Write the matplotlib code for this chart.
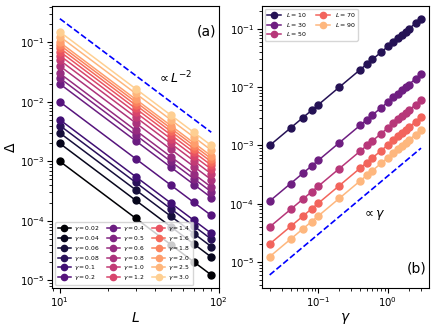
import numpy as np
import matplotlib
matplotlib.use("Agg")
import matplotlib.pyplot as plt

# Dados
L_values = [10, 30, 50, 70, 90]
gammas = [0.02, 0.04, 0.06, 0.08, 0.1, 0.2, 0.4, 0.5, 0.6, 0.8,
          1.0, 1.2, 1.4, 1.6, 1.8, 2.0, 2.5, 3.0]
# Delta[i][j] : gamma i, L j  (Delta ~ 5 gamma / L^2)
delta = [[5.0 * g / L**2 for L in L_values] for g in gammas]
delta = np.array(delta)

# linhas de referencia
ref_L = [10, 90]
ref_L_vals = [0.25, 0.25 * (10 / 90) ** 2]
ref_g = [0.02, 3.0]
ref_g_vals = [6e-6, 6e-6 * 150]

fig, axes = plt.subplots(1, 2, figsize=(4.36, 3.27), dpi=100)
plt.subplots_adjust(left=0.12, right=0.983, top=0.982, bottom=0.12, wspace=0.26)

cmap = plt.get_cmap("magma")
cols_g = cmap(np.linspace(0, 0.9, len(gammas)))
cols_L = cmap(np.linspace(0.15, 0.85, len(L_values)))

# (a)
ax = axes[0]
for i, g in enumerate(gammas):
    ax.plot(L_values, delta[i], "-o", color=cols_g[i], ms=5, lw=1.1,
            label=rf"$\gamma={g}$")
ax.plot(ref_L, ref_L_vals, "--", color="blue", lw=1.2)
ax.set_xscale("log")
ax.set_yscale("log")
ax.text(41, 0.025, r"$\propto L^{-2}$", fontsize=9, va="center")
ax.text(0.985, 0.91, "(a)", transform=ax.transAxes, ha="right", va="center", fontsize=10)
ax.set_xlabel(r"$L$", fontsize=10, labelpad=1)
ax.set_ylabel(r"$\Delta$", fontsize=10, labelpad=1)
ax.tick_params(labelsize=7.3, pad=2)
ax.legend(loc="lower left", ncol=3, fontsize=4.3, markerscale=0.9,
          handlelength=2.2, columnspacing=1.2, labelspacing=0.15,
          borderpad=0.4, handletextpad=0.5)

# (b)
ax = axes[1]
for j, L in enumerate(L_values):
    ax.plot(gammas, delta[:, j], "-o", color=cols_L[j], ms=5, lw=1.1,
            label=rf"$L={L}$")
ax.plot(ref_g, ref_g_vals, "--", color="blue", lw=1.2)
ax.set_xscale("log")
ax.set_yscale("log")
ax.text(0.42, 6.5e-5, r"$\propto \gamma$", fontsize=9, va="center")
ax.text(0.99, 0.07, "(b)", transform=ax.transAxes, ha="right", va="center", fontsize=10)
ax.set_xlabel(r"$\gamma$", fontsize=10, labelpad=1)
ax.tick_params(labelsize=7.3, pad=2)
ax.legend(loc="upper left", ncol=2, fontsize=4.5, markerscale=0.9,
          handlelength=2.2, columnspacing=1.5, labelspacing=0.25,
          borderpad=0.35)

plt.savefig("out.png", dpi=100)
